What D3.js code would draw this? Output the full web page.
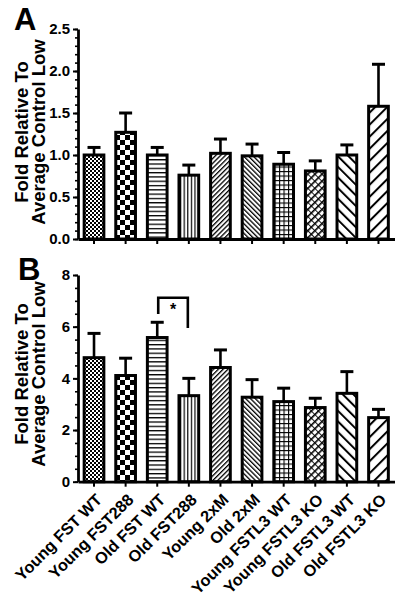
<!DOCTYPE html>
<html><head><meta charset="utf-8">
<script src="https://cdn.jsdelivr.net/npm/d3@7"></script>
<style>
html,body{margin:0;padding:0;background:#fff;}
text{font-family:"Liberation Sans",Arial,Helvetica,sans-serif;font-weight:bold;fill:#000;}
</style></head>
<body>
<svg id="chart" width="401" height="600"></svg>
<script>
const categories = ["Young FST WT","Young FST288","Old FST WT","Old FST288","Young 2xM","Old 2xM","Young FSTL3 WT","Young FSTL3 KO","Old FSTL3 WT","Old FSTL3 KO"];
const meanA = [1.00,1.27,1.00,0.76,1.02,0.99,0.89,0.81,1.00,1.58];
const errA  = [0.09,0.23,0.09,0.12,0.17,0.14,0.14,0.12,0.12,0.50];
const meanB = [4.80,4.11,5.58,3.33,4.42,3.27,3.10,2.87,3.42,2.48];
const errB  = [0.94,0.67,0.59,0.67,0.68,0.68,0.52,0.36,0.84,0.32];
const ticksA = [0,0.5,1.0,1.5,2.0,2.5];
const minorA = d3.range(0,2.501,0.1);
const ticksB = [0,2,4,6,8];
const minorB = d3.range(0,8.01,0.5);
const yLabelLines = ["Fold Relative To","Average Control Low"];
const panelLetters = ["A","B"];
const brackets = [{from:"Old FST WT", to:"Old FST288", top:7.12, leftEnd:6.49, rightEnd:5.95, label:"*"}];
const patternIds = ["finecheck","check","hlines","vlines","fwd","back","grid","cross","backwide","fwdwide"];

const svg = d3.select("#chart");
svg.append("rect").attr("width",401).attr("height",600).attr("fill","#fff");
const defs = svg.append("defs");

function pat(id, w, h, transform){
  const p = defs.append("pattern").attr("id",id).attr("patternUnits","userSpaceOnUse")
    .attr("width",w).attr("height",h);
  if(transform) p.attr("patternTransform",transform);
  p.append("rect").attr("width",w).attr("height",h).attr("fill","#fff");
  return p;
}
{const p=pat("finecheck",4,4); p.append("rect").attr("width",2).attr("height",2).attr("fill","#000"); p.append("rect").attr("x",2).attr("y",2).attr("width",2).attr("height",2).attr("fill","#000");}
{const p=pat("check",10,10); p.append("rect").attr("width",5).attr("height",5).attr("fill","#000"); p.append("rect").attr("x",5).attr("y",5).attr("width",5).attr("height",5).attr("fill","#000");}
{const p=pat("hlines",4,4.3); p.append("rect").attr("y",0).attr("width",4).attr("height",1.3).attr("fill","#000");}
{const p=pat("vlines",3.6,4); p.append("rect").attr("x",0).attr("width",1.2).attr("height",4).attr("fill","#000");}
{const p=pat("fwd",3.4,4,"rotate(45)"); p.append("rect").attr("width",1.3).attr("height",4).attr("fill","#000");}
{const p=pat("back",3.4,4,"rotate(-45)"); p.append("rect").attr("width",1.3).attr("height",4).attr("fill","#000");}
{const p=pat("grid",4.5,4.5); p.append("rect").attr("width",4.5).attr("height",1.1).attr("fill","#000"); p.append("rect").attr("width",1.1).attr("height",4.5).attr("fill","#000");}
{const p=pat("cross",5,5,"rotate(45)"); p.append("rect").attr("width",1.6).attr("height",5).attr("fill","#000"); p.append("rect").attr("width",5).attr("height",0.9).attr("fill","#000");}
{const p=pat("backwide",7.5,8,"rotate(-45)"); p.append("rect").attr("width",2).attr("height",8).attr("fill","#000");}
{const p=pat("fwdwide",8.5,8,"rotate(45)"); p.append("rect").attr("width",2).attr("height",8).attr("fill","#000");}

const x = d3.scaleBand().domain(categories).range([78,394.5]).paddingInner(0.377).paddingOuter(0.195);

const panels = [
  {mean:meanA, err:errA, major:ticksA, minor:minorA, range:[239,29], fmt:d3.format(".1f"), letter:panelLetters[0], letterY:30, letterX:14, labelCenter:132, showX:false},
  {mean:meanB, err:errB, major:ticksB, minor:minorB, range:[481.7,275], fmt:d3.format("d"), letter:panelLetters[1], letterY:280, letterX:18, labelCenter:374, showX:true}
];

panels.forEach((P,pi)=>{
  const y = d3.scaleLinear().domain([P.major[0], P.major[P.major.length-1]]).range(P.range);
  const g = svg.append("g");
  const data = categories.map((c,i)=>({c, m:P.mean[i], e:P.err[i], pid:patternIds[i]}));
  const cx = d=> x(d.c)+x.bandwidth()/2;
  g.selectAll(".ev").data(data).join("line")
    .attr("x1",cx).attr("x2",cx).attr("y1",d=>y(d.m)).attr("y2",d=>y(d.m+d.e))
    .attr("stroke","#000").attr("stroke-width",2.6);
  g.selectAll(".ec").data(data).join("line")
    .attr("x1",d=>cx(d)-6.5).attr("x2",d=>cx(d)+6.5).attr("y1",d=>y(d.m+d.e)).attr("y2",d=>y(d.m+d.e))
    .attr("stroke","#000").attr("stroke-width",3);
  g.selectAll(".bar").data(data).join("rect")
    .attr("x",d=>x(d.c)).attr("width",x.bandwidth())
    .attr("y",d=>y(d.m)).attr("height",d=>y(0)-y(d.m))
    .attr("fill",d=>`url(#${d.pid})`).attr("stroke","#000").attr("stroke-width",3);

  const minorAxis = d3.axisLeft(y).tickValues(P.minor).tickSize(3).tickFormat("").tickSizeOuter(0);
  const gm = g.append("g").attr("transform","translate(78,0)").call(minorAxis);
  gm.select(".domain").remove();
  gm.selectAll("line").attr("stroke","#000").attr("stroke-width",1.6);
  const majorAxis = d3.axisLeft(y).tickValues(P.major).tickSize(5).tickPadding(3).tickFormat(P.fmt).tickSizeOuter(0);
  const gy = g.append("g").attr("transform","translate(78,0)").call(majorAxis);
  gy.select(".domain").attr("stroke","#000").attr("stroke-width",2.8);
  gy.selectAll("line").attr("stroke","#000").attr("stroke-width",2);
  gy.selectAll("text").style("font-size","15px").style("font-family","Liberation Sans, Arial, sans-serif").style("font-weight","bold");

  const xAxis = d3.axisBottom(x).tickSize(5).tickSizeOuter(0).tickFormat(P.showX? (d=>d) : "");
  const gx = g.append("g").attr("transform",`translate(0,${y(0)})`).call(xAxis);
  gx.select(".domain").attr("stroke","#000").attr("stroke-width",2.8);
  gx.selectAll("line").attr("stroke","#000").attr("stroke-width",2);
  if(P.showX){
    gx.selectAll("text").style("font-size","16.3px").style("font-family","Liberation Sans, Arial, sans-serif").style("font-weight","bold")
      .attr("text-anchor","end").attr("y",0).attr("dy","0.35em")
      .attr("transform","translate(5,15) rotate(-45)");
  }

  const lab = g.append("text").attr("transform",`translate(0,${P.labelCenter}) rotate(-90)`)
    .attr("text-anchor","middle").style("font-size","18.5px");
  yLabelLines.forEach((t,i)=>lab.append("tspan").attr("x",0).attr("y",28+i*16.5).text(t));

  g.append("text").attr("x",P.letterX).attr("y",P.letterY).style("font-size","31px").text(P.letter);

  if(pi===1){
    brackets.forEach(b=>{
      const xl = x(b.from)+x.bandwidth()/2+1, xr = x(b.to)+x.bandwidth()/2-1;
      g.append("path").attr("d",`M${xl},${y(b.leftEnd)}V${y(b.top)}H${xr}V${y(b.rightEnd)}`)
        .attr("fill","none").attr("stroke","#000").attr("stroke-width",2.6);
      g.append("text").attr("x",(xl+xr)/2).attr("y",y(b.top)+17).attr("text-anchor","middle")
        .style("font-size","16px").text(b.label);
    });
  }
});
</script>
</body></html>
